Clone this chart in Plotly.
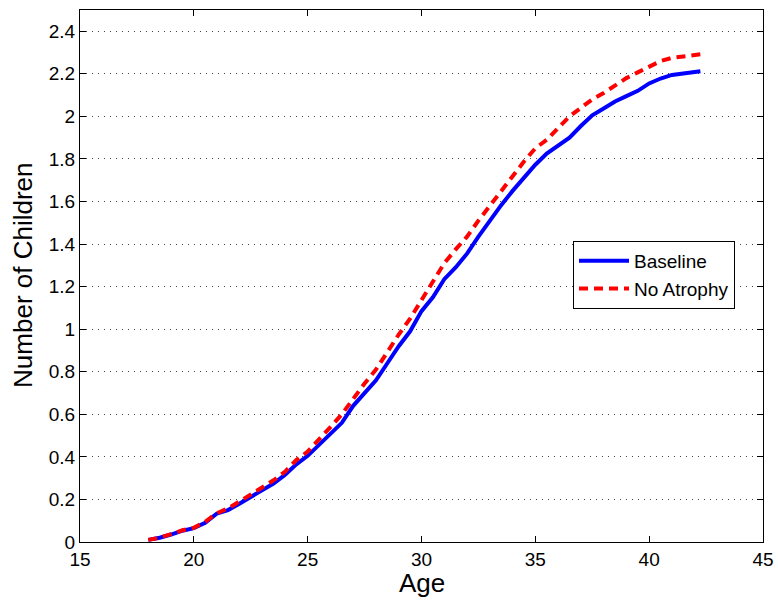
import plotly.graph_objects as go

ages = [18.0, 18.5, 19.0, 19.5, 20.0, 20.5, 21.0, 21.5, 22.0, 22.5, 23.0, 23.5, 24.0, 24.5,
        25.0, 25.5, 26.0, 26.5, 27.0, 27.5, 28.0, 28.5, 29.0, 29.5, 30.0, 30.5, 31.0, 31.5,
        32.0, 32.5, 33.0, 33.5, 34.0, 34.5, 35.0, 35.5, 36.0, 36.5, 37.0, 37.5, 38.0, 38.5,
        39.0, 39.5, 40.0, 40.5, 41.0, 41.5, 42.0, 42.25]

baseline = [0.01, 0.02, 0.035, 0.053, 0.065, 0.09, 0.133, 0.15, 0.18, 0.212, 0.245, 0.275,
            0.315, 0.365, 0.405, 0.455, 0.51, 0.56, 0.64, 0.70, 0.76, 0.84, 0.92, 0.99,
            1.085, 1.15, 1.235, 1.29, 1.355, 1.435, 1.51, 1.583, 1.65, 1.71, 1.773, 1.825,
            1.865, 1.90, 1.955, 2.005, 2.037, 2.07, 2.095, 2.12, 2.155, 2.178, 2.195, 2.2,
            2.207, 2.212]

no_atrophy = [0.01, 0.02, 0.037, 0.055, 0.067, 0.095, 0.135, 0.158, 0.19, 0.222, 0.255, 0.29,
              0.33, 0.385, 0.425, 0.48, 0.54, 0.6, 0.675, 0.745, 0.81, 0.895, 0.975, 1.05,
              1.135, 1.22, 1.31, 1.375, 1.435, 1.51, 1.58, 1.655, 1.72, 1.788, 1.85, 1.89,
              1.945, 2.0, 2.04, 2.08, 2.11, 2.145, 2.18, 2.207, 2.235, 2.26, 2.275, 2.281,
              2.287, 2.292]

x_ticks = [15, 20, 25, 30, 35, 40, 45]
y_ticks = [0, 0.2, 0.4, 0.6, 0.8, 1.0, 1.2, 1.4, 1.6, 1.8, 2.0, 2.2, 2.4]
y_tick_labels = ["0", "0.2", "0.4", "0.6", "0.8", "1", "1.2", "1.4", "1.6", "1.8", "2", "2.2", "2.4"]

FONT = "Liberation Sans, Arial, Helvetica, sans-serif"

fig = go.Figure()
fig.add_trace(go.Scatter(x=ages, y=baseline, mode="lines", name="Baseline",
                         line=dict(color="#0000ff", width=4)))
fig.add_trace(go.Scatter(x=ages, y=no_atrophy, mode="lines", name="No Atrophy",
                         line=dict(color="#ff0000", width=4, dash="9px,6px")))

axis_common = dict(showline=True, linecolor="black", linewidth=1, mirror="allticks",
                   ticks="inside", ticklen=6, tickcolor="black", tickwidth=1,
                   zeroline=False, automargin=False,
                   tickfont=dict(family=FONT, size=19, color="black"))

fig.update_xaxes(range=[15, 45], tickvals=x_ticks, showgrid=False, **axis_common)
fig.update_yaxes(range=[0, 2.5], tickvals=y_ticks, ticktext=y_tick_labels,
                 showgrid=True, gridcolor="#444444", gridwidth=1, griddash="1px,5px",
                 **axis_common)

fig.add_annotation(text="Age", xref="x", yref="paper", x=30, y=-0.077,
                   xanchor="center", yanchor="middle", showarrow=False,
                   font=dict(family=FONT, size=26, color="black"))
fig.add_annotation(text="Number of Children", xref="paper", yref="paper", x=-0.0835, y=0.502,
                   xanchor="center", yanchor="middle", textangle=-90, showarrow=False,
                   font=dict(family=FONT, size=26, color="black"))

fig.update_layout(
    width=778, height=601,
    margin=dict(l=80, r=15, t=10, b=59),
    paper_bgcolor="white", plot_bgcolor="white",
    showlegend=True,
    legend=dict(x=0.959, y=0.566, xanchor="right", yanchor="top",
                bgcolor="white", bordercolor="black", borderwidth=1,
                font=dict(family=FONT, size=19, color="black"),
                tracegroupgap=0, itemwidth=50),
)

fig.write_html("out.html", config={"displayModeBar": False},
               post_script="document.body.style.margin='0';document.body.style.overflow='hidden';")
